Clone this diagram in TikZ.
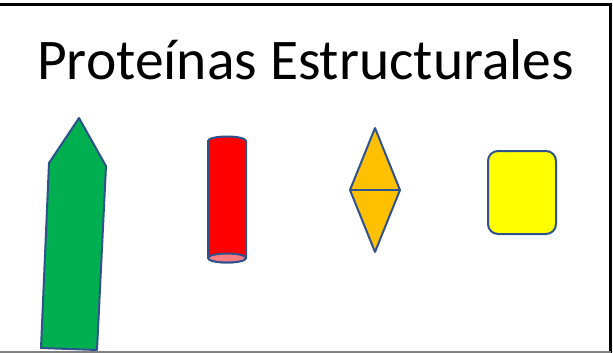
\documentclass[tikz,border=0pt]{standalone}
\usepackage{fontspec}
\setmainfont{Carlito}
\definecolor{outl}{HTML}{2F528F}
\definecolor{grn}{HTML}{00B050}
\definecolor{redc}{HTML}{FF0000}
\definecolor{pinkc}{HTML}{FF7C80}
\definecolor{orng}{HTML}{FFC000}
\definecolor{yell}{HTML}{FFFF00}
\begin{document}
\begin{tikzpicture}[x=1pt,y=-1pt,
  shape outline/.style={draw=outl,line width=2pt,line join=round},
  title text/.style={font=\fontsize{57.5}{66}\selectfont,inner sep=0pt,anchor=base west}]
\useasboundingbox (0,0) rectangle (613,353);
\fill[white] (0,0) rectangle (613,353);
% frame
\draw[black,line width=3pt] (0,4.5) -- (610.5,4.5) -- (610.5,353);
\draw[gray,line width=1.5pt] (0,352) -- (610.5,352);
% title
\node[title text] (title) at (37,80) {Proteínas Estructurales};
% green pentagon
\filldraw[shape outline,fill=grn] (79,118) -- (106,166) -- (97,350) -- (41,348) -- (49,163) -- cycle;
% red cylinder
\filldraw[shape outline,fill=redc] (208,141) arc[start angle=180,end angle=360,x radius=19,y radius=4.5]
  -- (246,258) arc[start angle=0,end angle=180,x radius=19,y radius=4.5] -- cycle;
\filldraw[shape outline,fill=pinkc] (227,258) ellipse[x radius=19,y radius=4.5];
% orange diamond
\filldraw[shape outline,fill=orng] (375,128) -- (400,190) -- (375,252) -- (350,190) -- cycle;
\draw[shape outline] (350,190) -- (400,190);
% yellow rounded rectangle
\filldraw[shape outline,fill=yell,rounded corners=10pt] (488,151) rectangle (556,234);
\end{tikzpicture}
\end{document}
